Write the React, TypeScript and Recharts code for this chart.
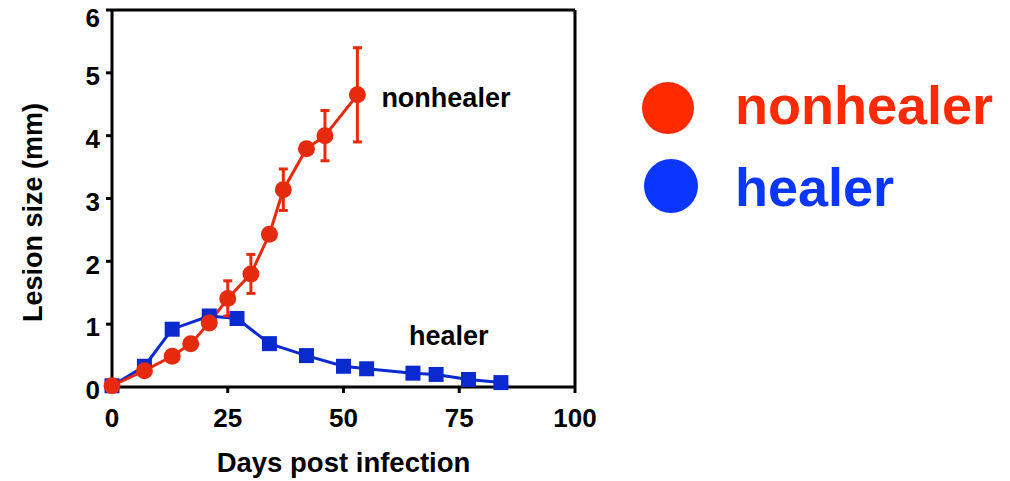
import React from 'react';
import { LineChart, Line, XAxis, YAxis, ErrorBar, ReferenceLine, LabelList, Legend } from 'recharts';

const FONT = '"Liberation Sans", Arial, Helvetica, sans-serif';

// nonhealer (red circles)
const nonhealerDays = [0, 7, 13, 17, 21, 25, 30, 34, 37, 42, 46, 53];
const nonhealerSize = [0.02, 0.26, 0.49, 0.69, 1.02, 1.41, 1.8, 2.43, 3.14, 3.79, 4.0, 4.65];
const nonhealerErr = [0, 0, 0, 0, 0, 0.28, 0.31, 0, 0.33, 0, 0.4, 0.75];

// healer (blue squares)
const healerDays = [0, 7, 13, 21, 27, 34, 42, 50, 55, 65, 70, 77, 84];
const healerSize = [0.02, 0.33, 0.92, 1.13, 1.09, 0.69, 0.5, 0.33, 0.29, 0.22, 0.2, 0.12, 0.07];

const xTicks = [0, 25, 50, 75, 100];
const yTicks = [0, 1, 2, 3, 4, 5, 6];

const seriesNames = ['nonhealer', 'healer'];
const lineColors = ['#e62a0e', '#0a2ad0'];
const legendColors = ['#ff2a00', '#0a36ff'];

const nonhealerData = nonhealerDays.map((d, i) => ({ day: d, size: nonhealerSize[i], err: nonhealerErr[i] }));
const healerData = healerDays.map((d, i) => ({ day: d, size: healerSize[i] }));

const tickStyle = { fill: '#000', fontSize: 26, fontWeight: 700, fontFamily: FONT };

const SquareDot = (props: any) => {
  const { cx, cy, index } = props;
  return <rect key={`sq-${index}`} x={cx - 7.5} y={cy - 7.5} width={15} height={15} fill={lineColors[1]} />;
};

const LegendBox = () => (
  <svg width={380} height={170}>
    <circle cx={38} cy={48} r={26} fill={legendColors[0]} />
    <text x={105} y={64} fontSize={54} fontWeight={700} fontFamily={FONT} fill={legendColors[0]}>
      {seriesNames[0]}
    </text>
    <circle cx={41} cy={126} r={27} fill={legendColors[1]} />
    <text x={105} y={146} fontSize={54} fontWeight={700} fontFamily={FONT} fill={legendColors[1]}>
      {seriesNames[1]}
    </text>
  </svg>
);

export default function App() {
  return (
    <div style={{ position: 'absolute', left: 0, top: 0, width: 1010, height: 481, background: '#fff', fontFamily: FONT }}>
      <LineChart width={1010} height={481} margin={{ top: 10, right: 435, left: 0, bottom: 0 }}>
        <XAxis
          dataKey="day"
          type="number"
          domain={[0, 100]}
          ticks={xTicks}
          height={94}
          allowDuplicatedCategory={false}
          axisLine={{ stroke: '#000', strokeWidth: 3 }}
          tickLine={{ stroke: '#000', strokeWidth: 3 }}
          tickSize={6}
          tickMargin={16}
          tick={tickStyle}
          label={{
            value: 'Days post infection',
            position: 'insideBottom',
            offset: 9,
            fill: '#000',
            fontSize: 27.5,
            fontWeight: 700,
            fontFamily: FONT,
          }}
        />
        <YAxis
          type="number"
          domain={[0, 6]}
          ticks={yTicks}
          width={112}
          axisLine={{ stroke: '#000', strokeWidth: 3 }}
          tickLine={{ stroke: '#000', strokeWidth: 3 }}
          tickSize={6}
          tickMargin={6}
          tick={{ ...tickStyle, dy: 3 }}
          label={{
            content: (p: any) => {
              const vb = p.viewBox || { x: 0, y: 10, width: 112, height: 377 };
              const x = vb.x + 41.5;
              const y = vb.y + vb.height / 2 + 14;
              return (
                <text
                  x={x}
                  y={y}
                  transform={`rotate(-90 ${x} ${y})`}
                  textAnchor="middle"
                  fontSize={27}
                  fontWeight={700}
                  fontFamily={FONT}
                  fill="#000"
                >
                  Lesion size (mm)
                </text>
              );
            },
          }}
        />
        <ReferenceLine y={6} stroke="#000" strokeWidth={3} />
        <ReferenceLine x={100} stroke="#000" strokeWidth={3} />
        <Legend
          layout="horizontal"
          verticalAlign="middle"
          align="center"
          wrapperStyle={{ position: 'absolute', left: 630, top: 60, width: 380, height: 170 }}
          content={() => <LegendBox />}
        />
        <Line
          data={healerData}
          dataKey="size"
          name={seriesNames[1]}
          stroke={lineColors[1]}
          strokeWidth={3}
          dot={SquareDot}
          activeDot={false}
          isAnimationActive={false}
        >
          <LabelList
            dataKey="size"
            content={(p: any) =>
              p.index === 9 ? (
                <text x={p.x - 4} y={p.y - 28} fontSize={27} fontWeight={700} fontFamily={FONT} fill="#000">
                  healer
                </text>
              ) : null
            }
          />
        </Line>
        <Line
          data={nonhealerData}
          dataKey="size"
          name={seriesNames[0]}
          stroke={lineColors[0]}
          strokeWidth={3}
          dot={{ r: 8.5, fill: lineColors[0], stroke: 'none' }}
          activeDot={false}
          isAnimationActive={false}
        >
          <ErrorBar dataKey="err" direction="y" width={4.5} stroke={lineColors[0]} strokeWidth={3} />
          <LabelList
            dataKey="size"
            content={(p: any) =>
              p.index === nonhealerDays.length - 1 ? (
                <text x={p.x + 24} y={p.y + 12} fontSize={27} fontWeight={700} fontFamily={FONT} fill="#000">
                  nonhealer
                </text>
              ) : null
            }
          />
        </Line>
      </LineChart>
    </div>
  );
}
